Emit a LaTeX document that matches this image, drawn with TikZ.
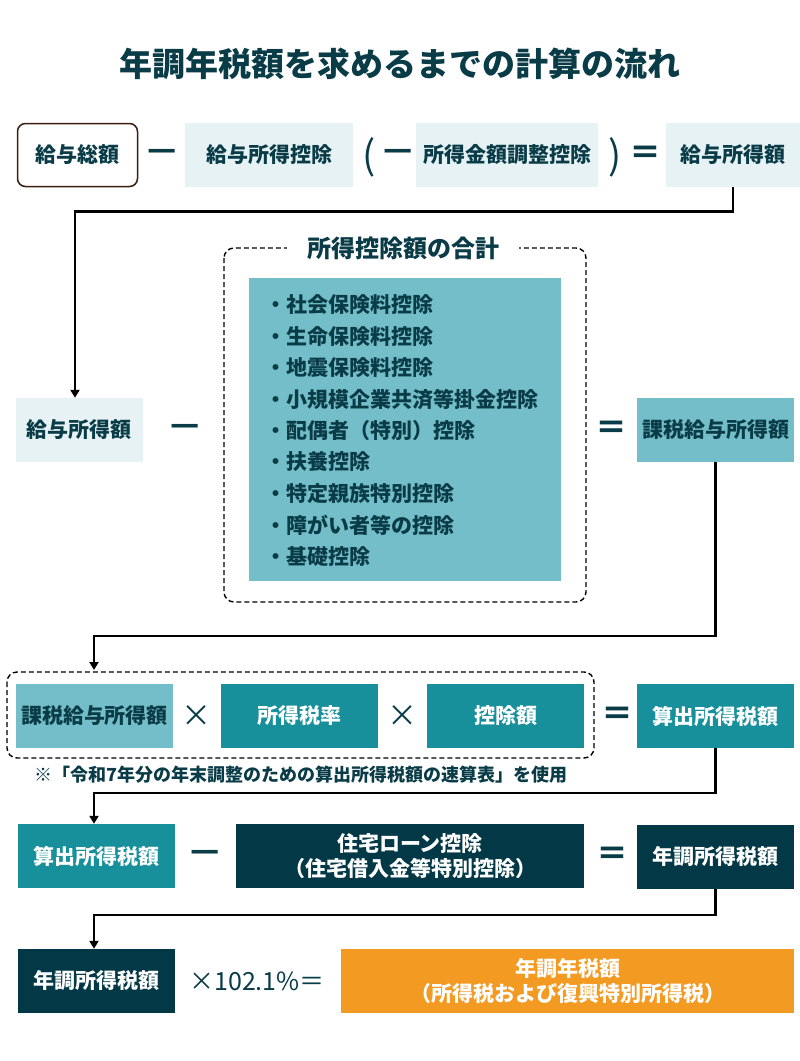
\documentclass[tikz,border=0pt]{standalone}
\usepackage{fontspec}
\newfontfamily\jp{Noto Sans CJK JP}
\usetikzlibrary{arrows.meta}
\definecolor{dtxt}{HTML}{0A3C48}
\definecolor{lightbox}{HTML}{E6F2F4}
\definecolor{midteal}{HTML}{73BEC8}
\definecolor{tealbox}{HTML}{17909C}
\definecolor{navybox}{HTML}{033947}
\definecolor{orangebox}{HTML}{F39A22}
\definecolor{brownline}{HTML}{3B1E12}
\tikzset{
  box/.style={inner sep=0pt, minimum height=64pt, align=center,
    font=\jp\bfseries\fontsize{21}{25}\selectfont},
  lightb/.style={box, fill=lightbox, text=dtxt},
  midb/.style={box, fill=midteal, text=dtxt},
  tealb/.style={box, fill=tealbox, text=white},
  navyb/.style={box, fill=navybox, text=white},
  orangeb/.style={box, fill=orangebox, text=white},
  op/.style={inner sep=0pt, text=dtxt, font=\jp\bfseries\fontsize{32}{34}\selectfont},
  paren/.style={inner sep=0pt, text=dtxt, font=\jp\fontsize{39}{40}\selectfont},
  opthin/.style={inner sep=0pt, text=dtxt, font=\jp\fontsize{30}{32}\selectfont},
  item/.style={inner sep=0pt, anchor=west, text=dtxt, font=\jp\bfseries\fontsize{21}{24}\selectfont},
  flow/.style={line width=2.6pt, draw=black, -{Triangle[width=9pt,length=8pt]}},
  dashbox/.style={draw=black, line width=1.4pt, dash pattern=on 5pt off 3pt, rounded corners=10pt}
}
\begin{document}
\begin{tikzpicture}[x=1pt,y=-1pt]
\useasboundingbox (0,0) rectangle (800,1061);
% title
\node[inner sep=0pt, text=dtxt, font=\jp\bfseries\fontsize{33}{36}\selectfont] (title) at (400,64) {年調年税額を求めるまでの計算の流れ};

% row 1
\node[box, fill=white, draw=brownline, line width=1.5pt, rounded corners=8pt, text=dtxt, minimum width=120pt, minimum height=63pt] (a) at (77.5,155) {給与総額};
\node[op] (m1) at (162,155) {—};
\node[lightb, minimum width=168pt] (b) at (269,155) {給与所得控除};
\node[paren] (lp) at (369,157) {(};
\node[op] (m2) at (398,155) {—};
\node[lightb, minimum width=182pt] (c) at (507,155) {所得金額調整控除};
\node[paren] (rp) at (615,157) {)};
\node[op] (e1) at (645,155) {＝};
\node[lightb, minimum width=134pt] (d) at (733,155) {給与所得額};

% row 2
\node[lightb, minimum width=127pt] (e) at (79.5,430) {給与所得額};
\node[op] (m3) at (185,430) {—};
\draw[dashbox] (224,248) rectangle (586,602);
\node[inner sep=0pt, fill=white, text=dtxt, font=\jp\bfseries\fontsize{24}{28}\selectfont, minimum width=232pt, minimum height=20pt] (sumt) at (403,248) {所得控除額の合計};
\node[box, fill=midteal, minimum width=312pt, minimum height=303pt] (list) at (405,429.5) {};
\node[item] (l1) at (265,305) {・社会保険料控除};
\node[item] (l2) at (265,336.4) {・生命保険料控除};
\node[item] (l3) at (265,367.8) {・地震保険料控除};
\node[item] (l4) at (265,399.2) {・小規模企業共済等掛金控除};
\node[item] (l5) at (265,430.6) {・配偶者（特別）控除};
\node[item] (l6) at (265,462) {・扶養控除};
\node[item] (l7) at (265,493.4) {・特定親族特別控除};
\node[item] (l8) at (265,524.8) {・障がい者等の控除};
\node[item] (l9) at (265,556.2) {・基礎控除};
\node[op] (e2) at (611,430) {＝};
\node[midb, minimum width=157pt] (f) at (715.5,430) {課税給与所得額};

% row 3
\draw[dashbox] (7,672) rectangle (594,758);
\coordinate (g) at (94,670);
\node[midb, minimum width=157pt] (h1) at (94.5,716) {課税給与所得額};
\node[opthin] (x1) at (196,716) {×};
\node[tealb, minimum width=157pt] (h2) at (299.5,716) {所得税率};
\node[opthin] (x2) at (402,716) {×};
\node[tealb, minimum width=157pt] (h3) at (505.5,716) {控除額};
\node[op] (e3) at (617,716) {＝};
\node[tealb, minimum width=157pt] (h4) at (715.5,716) {算出所得税額};
\node[inner sep=0pt, anchor=west, text=dtxt, font=\jp\bfseries\fontsize{18}{22}\selectfont] (note) at (34,775) {※「令和7年分の年末調整のための算出所得税額の速算表」を使用};

% row 4
\node[tealb, minimum width=157pt] (i1) at (96.5,856) {算出所得税額};
\node[op] (m4) at (205,856) {—};
\node[navyb, minimum width=348pt] (i2) at (410,856) {住宅ローン控除\\（住宅借入金等特別控除）};
\node[op] (e4) at (612,856) {＝};
\node[navyb, minimum width=157pt] (i3) at (715.5,857) {年調所得税額};

% row 5
\node[navyb, minimum width=157pt] (j1) at (96.5,981) {年調所得税額};
\node[inner sep=0pt, text=dtxt, font=\jp\fontsize{25}{28}\selectfont] (mult) at (257,981) {×102.1\%＝};
\node[orangeb, minimum width=453pt] (j2) at (567.5,981) {年調年税額\\（所得税および復興特別所得税）};

% connectors
\draw[flow] (d.south) -- ++(0,24) -| ([xshift=-4.5pt]e.north);
\draw[flow] (f.south) -- (715.5,636) -| (g);
\draw[flow] (h4.south) -- (715.5,793) -| ([xshift=-2.5pt]i1.north);
\draw[flow] (i3.south) -- (715.5,915) -| ([xshift=-2.5pt]j1.north);
\end{tikzpicture}
\end{document}
